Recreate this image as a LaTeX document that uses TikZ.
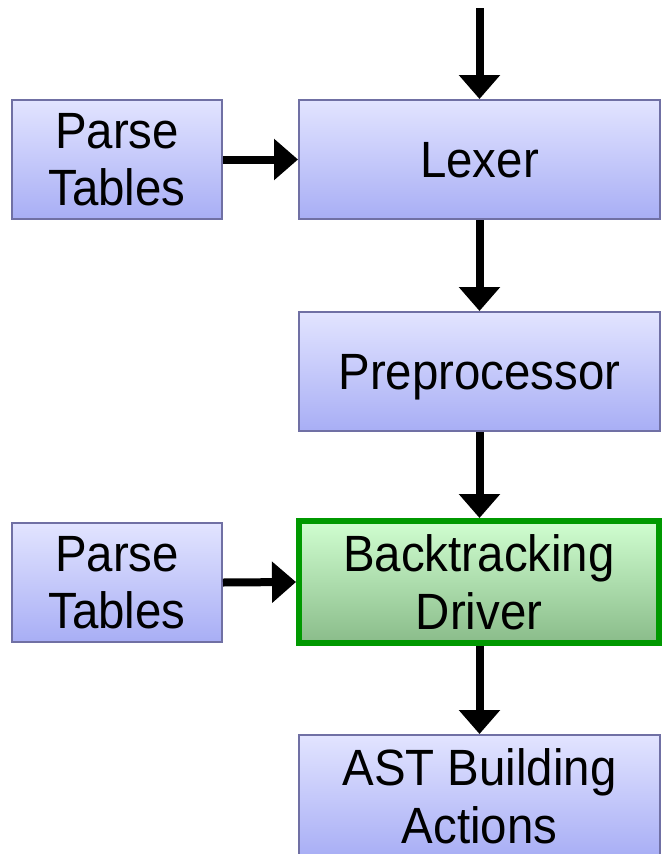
\documentclass[tikz,border=0pt]{standalone}
\usepackage{fontspec}
\setmainfont{Liberation Sans}[FakeStretch=0.93]
\usetikzlibrary{arrows.meta}
\definecolor{blueTop}{RGB}{226,228,255}
\definecolor{blueBot}{RGB}{168,174,245}
\definecolor{blueEdge}{RGB}{112,112,164}
\definecolor{greenTop}{RGB}{208,254,208}
\definecolor{greenBot}{RGB}{138,188,138}
\definecolor{greenEdge}{RGB}{0,153,0}
\tikzset{
  stage/.style={draw=blueEdge, line width=2pt, top color=blueTop, bottom color=blueBot,
    minimum width=361pt, minimum height=119pt, inner sep=0pt, align=center,
    text depth=0pt, font=\fontsize{51}{57.5}\selectfont},
  tables/.style={stage, minimum width=210pt},
  driver/.style={stage, draw=greenEdge, line width=6pt, top color=greenTop, bottom color=greenBot,
    minimum width=360pt, minimum height=122pt},
  flow/.style={line width=8pt, -{Triangle[width=40pt,length=24pt]}}
}
\begin{document}
\begin{tikzpicture}[x=1pt,y=-1pt]
\useasboundingbox (0,0) rectangle (662,854);
\clip (0,0) rectangle (662,854);
\node[tables] (pt1) at (117,159.5) {Parse\\Tables};
\node[stage] (lexer) at (479.5,159.5) {Lexer};
\node[stage] (pre) at (479.5,371.5) {Preprocessor};
\node[tables] (pt2) at (117,582.5) {Parse\\Tables};
\node[driver] (bt) at (479,582) {Backtracking\\Driver};
\node[stage, minimum height=122pt] (ast) at (479.5,796) {AST Building\\Actions};
\coordinate (src) at (479.5,8);
\draw[flow] (src) -- (lexer.north);
\draw[flow] (pt1.east) -- (lexer.west);
\draw[flow] (lexer.south) -- (pre.north);
\draw[flow] (pre.south) -- (bt.north -| pre.south);
\draw[flow] (pt2.east) -- (bt.west);
\draw[flow] (bt.south -| ast.north) -- (ast.north);
\end{tikzpicture}
\end{document}
